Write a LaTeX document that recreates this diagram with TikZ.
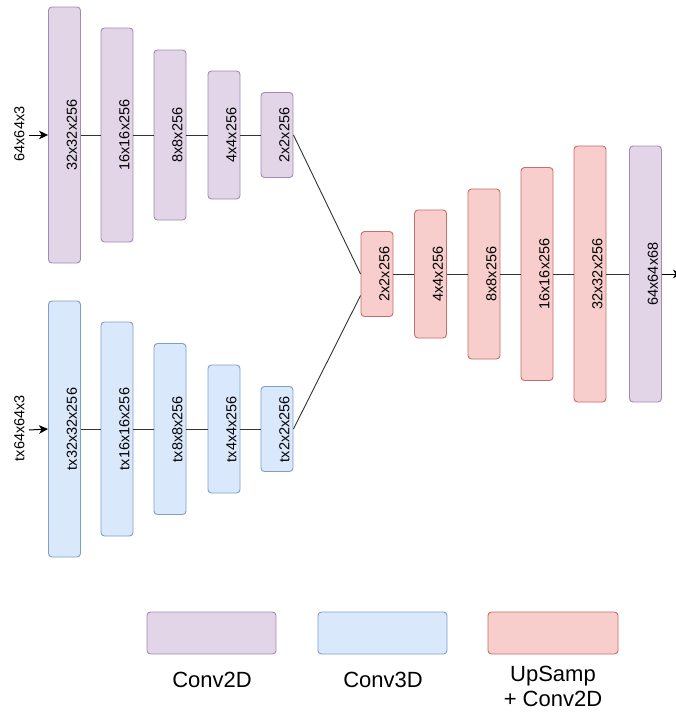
\documentclass[tikz,border=0pt]{standalone}
\usepackage{fontspec}
\setmainfont{Liberation Sans}
\usetikzlibrary{arrows.meta,calc}
\definecolor{pfill}{HTML}{E1D5E7}
\definecolor{pdraw}{HTML}{A58BB4}
\definecolor{bfill}{HTML}{DAE8FC}
\definecolor{bdraw}{HTML}{7F9FCB}
\definecolor{rfill}{HTML}{F8CECC}
\definecolor{rdraw}{HTML}{C86E6A}
\begin{document}
\begin{tikzpicture}[x=1pt,y=-1pt,
  layer/.style={rounded corners=3.5pt, line width=0.9pt, minimum width=32pt, inner sep=0pt},
  ptwod/.style={layer, fill=pfill, draw=pdraw},
  pthreed/.style={layer, fill=bfill, draw=bdraw},
  pup/.style={layer, fill=rfill, draw=rdraw},
  lbl/.style={rotate=90, font=\fontsize{14.5}{17}\selectfont, inner sep=0pt},
  leg/.style={font=\fontsize{22}{25}\selectfont, inner sep=0pt, align=center},
  conn/.style={draw=black!80, line width=0.9pt},
  inarrow/.style={draw=black, line width=1pt, -{Stealth[length=9pt,width=8.5pt,inset=2.5pt]}}]
\useasboundingbox (0,0) rectangle (676,715);
\clip (0,0) rectangle (676,715);
\fill[white] (0,0) rectangle (676,715);
% top branch
\node[ptwod, minimum height=256pt] (a1) at (64.5,135) {};
\node[ptwod, minimum height=214pt] (a2) at (117,135) {};
\node[ptwod, minimum height=170pt] (a3) at (170,135) {};
\node[ptwod, minimum height=128pt] (a4) at (224,135) {};
\node[ptwod, minimum height=85pt] (a5) at (277,135) {};
\node[lbl] (a1t) at ([xshift=7.5pt]a1.center) {32x32x256};
\node[lbl] (a2t) at ([xshift=7.5pt]a2.center) {16x16x256};
\node[lbl] (a3t) at ([xshift=7.5pt]a3.center) {8x8x256};
\node[lbl] (a4t) at ([xshift=7.5pt]a4.center) {4x4x256};
\node[lbl] (a5t) at ([xshift=7.5pt]a5.center) {2x2x256};
\node[lbl] (ain) at (19.5,134) {64x64x3};
\coordinate (ains) at (29,135);
% bottom branch
\node[pthreed, minimum height=256pt] (b1) at (64.5,429) {};
\node[pthreed, minimum height=214pt] (b2) at (117,429) {};
\node[pthreed, minimum height=171pt] (b3) at (170,429) {};
\node[pthreed, minimum height=128pt] (b4) at (224,429) {};
\node[pthreed, minimum height=85pt] (b5) at (277,429) {};
\node[lbl] (b1t) at ([xshift=7.5pt]b1.center) {tx32x32x256};
\node[lbl] (b2t) at ([xshift=7.5pt]b2.center) {tx16x16x256};
\node[lbl] (b3t) at ([xshift=7.5pt]b3.center) {tx8x8x256};
\node[lbl] (b4t) at ([xshift=7.5pt]b4.center) {tx4x4x256};
\node[lbl] (b5t) at ([xshift=7.5pt]b5.center) {tx2x2x256};
\node[lbl] (bin) at (19.5,428) {tx64x64x3};
\coordinate (bins) at (29,430);
% decoder
\node[pup, minimum height=85pt] (c1) at (377,274) {};
\node[pup, minimum height=128pt] (c2) at (430.5,274) {};
\node[pup, minimum height=170pt] (c3) at (484,274) {};
\node[pup, minimum height=213pt] (c4) at (537,274) {};
\node[pup, minimum height=256pt] (c5) at (590,274) {};
\node[ptwod, minimum height=256pt] (c6) at (645.5,274) {};
\node[lbl] (c1t) at ([xshift=7.5pt]c1.center) {2x2x256};
\node[lbl] (c2t) at ([xshift=7.5pt]c2.center) {4x4x256};
\node[lbl] (c3t) at ([xshift=7.5pt]c3.center) {8x8x256};
\node[lbl] (c4t) at ([xshift=7.5pt]c4.center) {16x16x256};
\node[lbl] (c5t) at ([xshift=7.5pt]c5.center) {32x32x256};
\node[lbl] (c6t) at ([xshift=7.5pt]c6.center) {64x64x68};
\coordinate (outp) at (682,274);
% connectors
\draw[inarrow] (ains) -- (a1.west);
\draw[inarrow] (bins) -- (b1.west);
\draw[conn] (a1.east) -- (a2.west);
\draw[conn] (a2.east) -- (a3.west);
\draw[conn] (a3.east) -- (a4.west);
\draw[conn] (a4.east) -- (a5.west);
\draw[conn] (b1.east) -- (b2.west);
\draw[conn] (b2.east) -- (b3.west);
\draw[conn] (b3.east) -- (b4.west);
\draw[conn] (b4.east) -- (b5.west);
\draw[conn] (a5.east) -- (c1.west);
\draw[conn] (b5.east) -- ($(c1.west)!0.5!(c1.south west)$);
\draw[conn] (c1.east) -- (c2.west);
\draw[conn] (c2.east) -- (c3.west);
\draw[conn] (c3.east) -- (c4.west);
\draw[conn] (c4.east) -- (c5.west);
\draw[conn] (c5.east) -- (c6.west);
\draw[inarrow] (c6.east) -- (outp);
% legend
\node[ptwod, minimum width=129pt, minimum height=42pt] (l1) at (211.5,633) {};
\node[pthreed, minimum width=129pt, minimum height=42pt] (l2) at (382.5,633) {};
\node[pup, minimum width=130pt, minimum height=42pt] (l3) at (553,633) {};
\node[leg] (l1t) at (212,680) {Conv2D};
\node[leg] (l2t) at (383,680) {Conv3D};
\node[leg] (l3t) at (553,686) {UpSamp\\+ Conv2D};
\end{tikzpicture}
\end{document}
